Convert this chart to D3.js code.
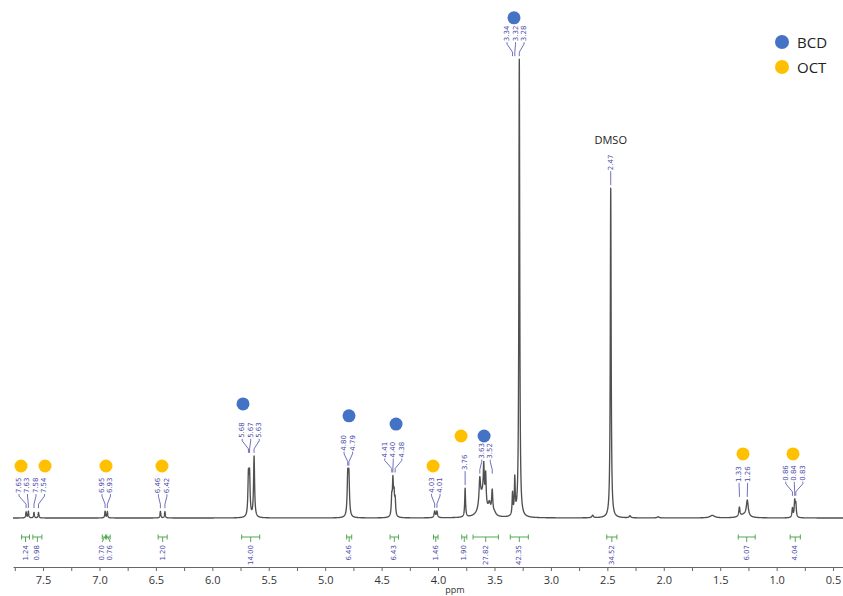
<!DOCTYPE html>
<html>
<head>
<meta charset="utf-8">
<script src="https://cdn.jsdelivr.net/npm/d3@7"></script>
<style>
  html, body { margin: 0; padding: 0; background: #fff; }
  svg { display: block; }
</style>
</head>
<body>
<svg id="chart" width="843" height="596"></svg>
<script>
// Resonance lines: [shift (ppm), amplitude (relative, tallest = 100), half-width (ppm)]
const peaks = [
  [7.65, 1.30, 0.004], [7.63, 1.45, 0.004], [7.58, 1.20, 0.004], [7.54, 1.20, 0.004],
  [6.95, 1.45, 0.004], [6.93, 1.35, 0.004],
  [6.46, 1.45, 0.004], [6.42, 1.40, 0.004],
  [5.68, 8.6, 0.0055], [5.67, 8.6, 0.0055], [5.63, 13.3, 0.0055],
  [4.80, 8.5, 0.006], [4.79, 8.5, 0.006],
  [4.41, 3.9, 0.005], [4.40, 7.4, 0.005], [4.39, 4.4, 0.005], [4.38, 3.5, 0.005],
  [4.03, 1.4, 0.006], [4.01, 1.4, 0.006],
  [3.76, 6.3, 0.0045],
  [3.605, 4.8, 0.03], [3.63, 5.9, 0.008], [3.595, 7.0, 0.005], [3.578, 6.55, 0.005],
  [3.545, 2.2, 0.012], [3.52, 5.0, 0.006], [3.50, 0.65, 0.015],
  [3.34, 4.8, 0.0045], [3.32, 7.85, 0.0045], [3.28, 100, 0.0045],
  [2.63, 0.55, 0.008], [2.47, 72.0, 0.0045], [2.30, 0.45, 0.008], [2.05, 0.25, 0.01],
  [1.57, 0.55, 0.025],
  [1.33, 2.0, 0.006], [1.26, 3.5, 0.01], [1.29, 0.65, 0.04],
  [0.86, 2.0, 0.005], [0.84, 3.5, 0.005], [0.83, 2.85, 0.005]
];

// Labelled peak shifts, one list per multiplet
const peakLabelGroups = [
  [7.65, 7.63, 7.58, 7.54],
  [6.95, 6.93],
  [6.46, 6.42],
  [5.68, 5.67, 5.63],
  [4.80, 4.79],
  [4.41, 4.40, 4.38],
  [4.03, 4.01],
  [3.76],
  [3.63, 3.52],
  [3.34, 3.32, 3.28],
  [2.47],
  [1.33, 1.26],
  [0.86, 0.84, 0.83]
];

// Integrals: [value, from ppm, to ppm]
const integrals = [
  [1.24, 7.69, 7.62], [0.98, 7.59, 7.51], [0.70, 6.975, 6.935], [0.76, 6.945, 6.905],
  [1.20, 6.48, 6.40], [14.00, 5.74, 5.58], [6.46, 4.81, 4.765], [6.43, 4.425, 4.35],
  [1.46, 4.04, 4.00], [1.90, 3.79, 3.745], [27.82, 3.69, 3.465], [42.35, 3.36, 3.20],
  [34.52, 2.505, 2.415], [6.07, 1.34, 1.19], [4.04, 0.88, 0.79]
];

// Assignment markers: [species, ppm, intensity level]
const markers = [
  ["OCT", 7.695, 11.35], ["OCT", 7.482, 11.35], ["OCT", 6.942, 11.35], ["OCT", 6.446, 11.35],
  ["BCD", 5.728, 24.9], ["BCD", 4.789, 22.3], ["BCD", 4.372, 20.5],
  ["OCT", 4.044, 11.35], ["OCT", 3.796, 17.9], ["BCD", 3.592, 17.9],
  ["BCD", 3.327, 109.2], ["OCT", 1.298, 14.0], ["OCT", 0.855, 14.0]
];

const species = ["BCD", "OCT"];
const speciesColors = ["#4472C4", "#FFC000"];
const solventLabel = ["DMSO", 2.47];

const majorTicks = [7.5, 7.0, 6.5, 6.0, 5.5, 5.0, 4.5, 4.0, 3.5, 3.0, 2.5, 2.0, 1.5, 1.0, 0.5];
const minorTicks = [7.75, 7.25, 6.75, 6.25, 5.75, 5.25, 4.75, 4.25, 3.75, 3.25, 2.75, 2.25, 1.75, 1.25, 0.75];

// ---------------------------------------------------------------
const svg = d3.select("#chart");
const x = d3.scaleLinear().domain([7.766, 0.412]).range([13, 843]);
const y = d3.scaleLinear().domain([0, 100]).range([518, 60]);
const color = d3.scaleOrdinal().domain(species).range(speciesColors);

const labelColor = "#4b4bab";
const integralColor = "#3f9f3f";
const labelFont = "'DejaVu Sans', sans-serif";

function intensity(p) {
  let s = 0;
  for (const [c, a, g] of peaks) s += a * g * g / ((p - c) * (p - c) + g * g);
  return s;
}

// spectrum trace
const pts = [];
const i0 = Math.ceil(0.412 * 2000), i1 = Math.floor(7.766 * 2000);
for (let i = i1; i >= i0; i--) { const p = i / 2000; pts.push([p, intensity(p)]); }
svg.append("path")
  .datum(pts)
  .attr("fill", "none")
  .attr("stroke", "#505050")
  .attr("stroke-width", 1.35)
  .attr("stroke-linejoin", "round")
  .attr("d", d3.line().x(d => x(d[0])).y(d => y(d[1])));

// x axis
const axis = d3.axisBottom(x)
  .tickValues(majorTicks.concat(minorTicks))
  .tickFormat(d => majorTicks.includes(d) ? d.toFixed(1) : "")
  .tickSize(4).tickSizeOuter(0).tickPadding(5);
const gx = svg.append("g").attr("transform", "translate(0,567)").call(axis);
gx.select(".domain").attr("stroke", "#666");
gx.selectAll(".tick line").attr("stroke", "#666");
gx.selectAll(".tick text").attr("fill", "#333").style("font", "11px 'Open Sans', sans-serif");
svg.append("text").attr("x", x(3.85)).attr("y", 593).attr("text-anchor", "middle")
  .attr("fill", "#333").style("font", "9px 'Open Sans', sans-serif").text("ppm");

// peak labels with connectors
const spread = 8.5;
peakLabelGroups.forEach(group => {
  const px = group.map(p => x(p));
  const topY = d3.min(group, p => y(intensity(p)));
  const cx = d3.mean(px);
  const n = group.length;
  const lb = topY - 18;          // bottom of the label text
  const end = topY - 3;          // where connectors stop
  const g = svg.append("g");
  group.forEach((p, i) => {
    const lx = n === 1 ? px[i] : cx + (i - (n - 1) / 2) * spread;
    g.append("text")
      .attr("transform", `translate(${lx},${lb}) rotate(-90)`)
      .attr("dominant-baseline", "central")
      .attr("fill", labelColor)
      .style("font", `7px ${labelFont}`)
      .text(p.toFixed(2));
    const path = n === 1
      ? `M${lx},${lb + 1}L${px[i]},${end}`
      : `M${lx},${lb + 1}L${lx},${lb + 3}L${px[i]},${Math.min(lb + 11, end)}L${px[i]},${end}`;
    g.append("path").attr("d", path).attr("fill", "none")
      .attr("stroke", labelColor).attr("stroke-width", 0.8);
  });
});

// integrals
const intItems = integrals.map(([v, a, b]) => ({ v, x1: x(a), x2: x(b), cx: (x(a) + x(b)) / 2 }));
intItems.forEach(d => d.lx = d.cx);
for (let k = 1; k < intItems.length; k++) {
  const a = intItems[k - 1], b = intItems[k];
  if (b.lx - a.lx < 8) { const m = (a.lx + b.lx) / 2; a.lx = m - 4; b.lx = m + 4; }
}
const ig = svg.append("g");
intItems.forEach(d => {
  ig.append("path")
    .attr("d", `M${d.x1},537H${d.x2}M${d.x1},534.5V539.5M${d.x2},534.5V539.5M${d.cx},537L${d.lx},542`)
    .attr("fill", "none").attr("stroke", integralColor).attr("stroke-width", 0.9);
  ig.append("text")
    .attr("transform", `translate(${d.lx},545) rotate(-90)`)
    .attr("text-anchor", "end").attr("dominant-baseline", "central")
    .attr("fill", labelColor).style("font", `7px ${labelFont}`)
    .text(d.v.toFixed(2));
});

// solvent label
svg.append("text").attr("x", x(solventLabel[1])).attr("y", 144).attr("text-anchor", "middle")
  .attr("fill", "#222").style("font", "11px 'Open Sans', sans-serif").text(solventLabel[0]);

// assignment markers
svg.append("g").selectAll("circle").data(markers).join("circle")
  .attr("cx", d => x(d[1])).attr("cy", d => y(d[2])).attr("r", 6.5)
  .attr("fill", d => color(d[0]));

// legend
const lg = svg.append("g").attr("transform", "translate(782,42)");
species.forEach((s, i) => {
  lg.append("circle").attr("cx", 0).attr("cy", i * 25).attr("r", 7).attr("fill", color(s));
  lg.append("text").attr("x", 15).attr("y", i * 25).attr("dominant-baseline", "central")
    .attr("fill", "#222").style("font", "15px 'Open Sans', sans-serif").text(s);
});
</script>
</body>
</html>
